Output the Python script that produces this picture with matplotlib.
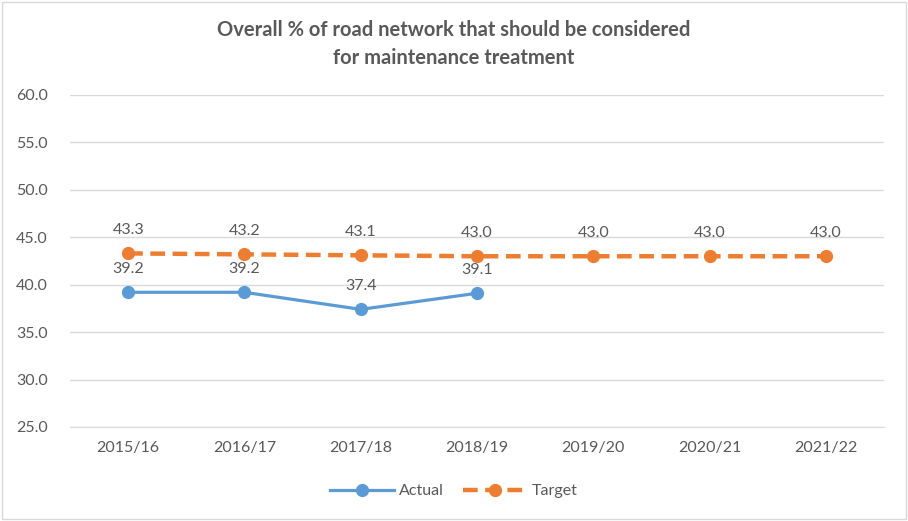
import matplotlib
matplotlib.use("Agg")
import matplotlib.pyplot as plt
from matplotlib.patches import Rectangle

years = ["2015/16", "2016/17", "2017/18", "2018/19", "2019/20", "2020/21", "2021/22"]
actual = [39.2, 39.2, 37.4, 39.1]
target = [43.3, 43.2, 43.1, 43.0, 43.0, 43.0, 43.0]

BLUE = "#5B9BD5"
ORANGE = "#ED7D31"
GREY = "#595959"
plt.rcParams["font.family"] = ["Lato", "DejaVu Sans"]

fig = plt.figure(figsize=(9.08, 5.21), dpi=100)
ax = fig.add_axes([70 / 908, 1 - 427 / 521, 814 / 908, 332 / 521])

x_act = list(range(len(actual)))
x_tgt = list(range(len(target)))

ax.plot(x_act, actual, color=BLUE, lw=2.3, marker="o", ms=8.5, label="Actual", zorder=3)
ax.plot(x_tgt, target, color=ORANGE, lw=3.2, ls=(0, (3.3, 1.7)), marker="o", ms=8.5,
        label="Target", zorder=3)

for xi, v in zip(x_act, actual):
    ax.annotate(f"{v:.1f}", (xi, v), xytext=(0, 12), textcoords="offset points",
                ha="center", va="bottom", fontsize=11.5, color=GREY)
for xi, v in zip(x_tgt, target):
    ax.annotate(f"{v:.1f}", (xi, v), xytext=(0, 12), textcoords="offset points",
                ha="center", va="bottom", fontsize=11.5, color=GREY)

ax.set_xlim(-0.5, len(years) - 0.5)
ax.set_ylim(25, 60)
ax.set_yticks([25, 30, 35, 40, 45, 50, 55, 60])
ax.set_yticklabels([f"{t:.1f}" for t in ax.get_yticks()])
ax.set_xticks(x_tgt)
ax.set_xticklabels(years)
ax.tick_params(axis="both", length=0, labelsize=11.5, labelcolor=GREY)
ax.tick_params(axis="y", pad=16)
ax.tick_params(axis="x", pad=10)
ax.grid(axis="y", color="#D9D9D9", lw=1)
ax.set_axisbelow(True)
for side in ["left", "right", "top"]:
    ax.spines[side].set_visible(False)
ax.spines["bottom"].set_color("#D9D9D9")

fig.text(0.5, 1 - 44 / 521, "Overall % of road network that should be considered\nfor maintenance treatment",
         ha="center", va="center", fontsize=14.5, fontweight="bold", color=GREY, linespacing=1.45)

leg = fig.legend(loc="center", bbox_to_anchor=(0.5, 1 - 491 / 521), ncol=2, frameon=False,
                 fontsize=11.5, handlelength=4.0, columnspacing=1.2, handletextpad=0.3)
for t in leg.get_texts():
    t.set_color(GREY)

fig.patches.append(Rectangle((2 / 908, 2 / 521), 904 / 908, 517 / 521, transform=fig.transFigure,
                             fill=False, edgecolor="#D9D9D9", lw=1))

fig.savefig("out.png", dpi=100, facecolor="white")
